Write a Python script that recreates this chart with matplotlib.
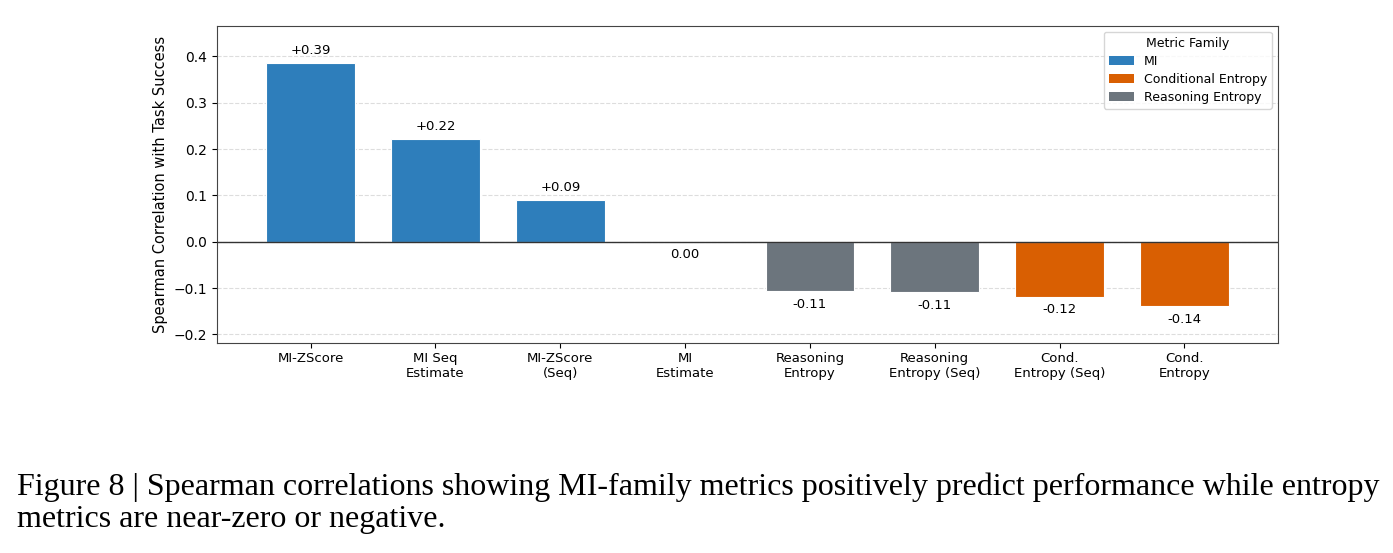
import matplotlib
matplotlib.use("Agg")
import matplotlib.pyplot as plt
from matplotlib.patches import Patch

categories = ["MI-ZScore", "MI Seq\nEstimate", "MI-ZScore\n(Seq)", "MI\nEstimate",
              "Reasoning\nEntropy", "Reasoning\nEntropy (Seq)", "Cond.\nEntropy (Seq)", "Cond.\nEntropy"]
values = [0.387, 0.222, 0.091, 0.0, -0.107, -0.109, -0.119, -0.139]
labels = ["+0.39", "+0.22", "+0.09", "0.00", "-0.11", "-0.11", "-0.12", "-0.14"]
families = ["MI", "MI", "MI", "MI", "Reasoning Entropy", "Reasoning Entropy",
            "Conditional Entropy", "Conditional Entropy"]
family_order = ["MI", "Conditional Entropy", "Reasoning Entropy"]
family_colors = {"MI": "#2e7ebb", "Conditional Entropy": "#d95f02", "Reasoning Entropy": "#6c757d"}

W, H = 1393, 553
fig = plt.figure(figsize=(W / 100, H / 100), dpi=100)
ax = fig.add_axes([217 / W, 1 - 342.7 / H, (1278 - 217) / W, (342.7 - 25.7) / H])

x = list(range(len(categories)))
colors = [family_colors[f] for f in families]
ax.bar(x, values, width=0.71, color=colors, edgecolor="white", linewidth=0.8, zorder=3)

for xi, v, lab in zip(x, values, labels):
    if v > 0:
        ax.text(xi, v + 0.012, lab, ha="center", va="bottom", fontsize=9.5)
    else:
        ax.text(xi, v - 0.014, lab, ha="center", va="top", fontsize=9.5)

ax.axhline(0, color="#333333", linewidth=1.0, zorder=4)
ax.set_ylim(-0.218, 0.4665)
ax.set_xlim(-0.75, 7.75)
ax.set_xticks(x)
ax.set_xticklabels(categories, fontsize=9.5)
ax.tick_params(axis="y", labelsize=10)
ax.set_ylabel("Spearman Correlation with Task Success", fontsize=10.5)
ax.yaxis.grid(True, linestyle="--", color="#dddddd", linewidth=0.8, zorder=0)
ax.set_axisbelow(True)
for s in ax.spines.values():
    s.set_color("#444444")

handles = [Patch(facecolor=family_colors[f], label=f) for f in family_order]
ax.legend(handles=handles, title="Metric Family", loc="upper right", fontsize=9,
          title_fontsize=9, frameon=True, labelspacing=0.4)

cap_font = ["Liberation Serif", "DejaVu Serif"]
fig.text(17 / W, 1 - 487 / H,
         "Figure 8 | Spearman correlations showing MI-family metrics positively predict performance while entropy",
         fontsize=23, family=cap_font, va="center", ha="left")
fig.text(17 / W, 1 - 519 / H, "metrics are near-zero or negative.",
         fontsize=23, family=cap_font, va="center", ha="left")

fig.savefig("out.png", dpi=100, facecolor="white")
